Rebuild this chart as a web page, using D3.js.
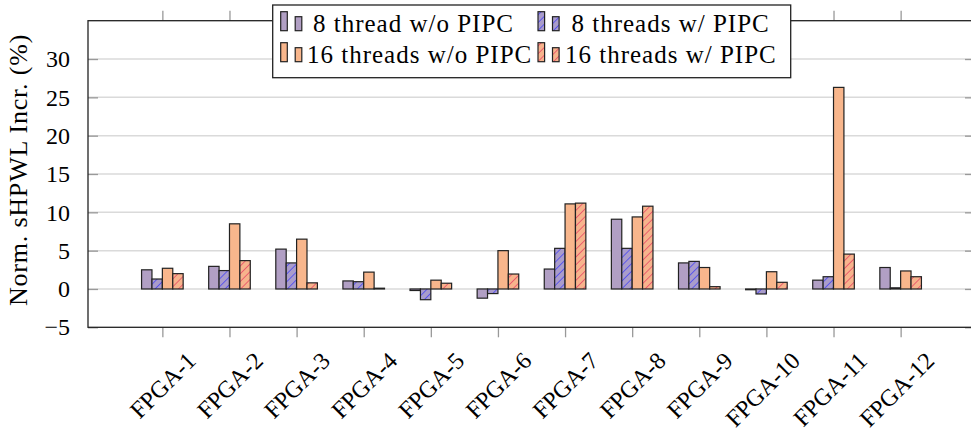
<!DOCTYPE html>
<html>
<head>
<meta charset="utf-8">
<script src="https://cdn.jsdelivr.net/npm/d3@7"></script>
<style>
  body { margin: 0; background: #fff; }
  svg { display: block; font-family: "Liberation Serif", "DejaVu Serif", serif; }
</style>
</head>
<body>
<div id="chart"></div>
<script>
// data
const categories = ["FPGA-1", "FPGA-2", "FPGA-3", "FPGA-4", "FPGA-5", "FPGA-6",
                    "FPGA-7", "FPGA-8", "FPGA-9", "FPGA-10", "FPGA-11", "FPGA-12"];
const seriesNames = ["8 thread w/o PIPC", "8 threads w/ PIPC", "16 threads w/o PIPC", "16 threads w/ PIPC"];
const t8NoPipc  = [2.5, 2.95, 5.2, 1.05, -0.2, -1.2, 2.6, 9.1, 3.4, -0.1, 1.15, 2.8];
const t8Pipc    = [1.3, 2.4, 3.4, 0.95, -1.4, -0.6, 5.3, 5.3, 3.6, -0.65, 1.6, 0.15];
const t16NoPipc = [2.7, 8.5, 6.5, 2.2, 1.15, 5.0, 11.1, 9.4, 2.8, 2.25, 26.3, 2.35];
const t16Pipc   = [2.0, 3.7, 0.8, 0.1, 0.75, 1.95, 11.2, 10.8, 0.3, 0.87, 4.55, 1.6];
const yTicks = [-5, 0, 5, 10, 15, 20, 25, 30];

const series = [t8NoPipc, t8Pipc, t16NoPipc, t16Pipc];
const styles = [
  { fill: "#b19fc4", hatch: null },
  { fill: "#a99ccb", hatch: "#2b2bff" },
  { fill: "#f8b68c", hatch: null },
  { fill: "#f7b38c", hatch: "#e3285a" }
];

const W = 971, H = 433;
const pLeft = 88, pRight = 975, pTop = 20.7, pBottom = 327.3;

const svg = d3.select("#chart").append("svg")
  .attr("width", W).attr("height", H);

const defs = svg.append("defs");
styles.forEach((s, i) => {
  if (!s.hatch) return;
  const p = defs.append("pattern")
    .attr("id", "hatch" + i)
    .attr("patternUnits", "userSpaceOnUse")
    .attr("width", 5.5).attr("height", 5.5)
    .attr("patternTransform", "rotate(45)");
  p.append("rect").attr("width", 5.5).attr("height", 5.5).attr("fill", s.fill);
  p.append("line").attr("x1", 0).attr("y1", 0).attr("x2", 0).attr("y2", 5.5)
    .attr("stroke", s.hatch).attr("stroke-width", 1.2);
});
const fillOf = i => styles[i].hatch ? "url(#hatch" + i + ")" : styles[i].fill;

// category index 0..11, with the frame reaching ~1.1 steps past the end ticks
const x = d3.scaleLinear().domain([-1.108, 12.108]).range([pLeft, pRight]);
const y = d3.scaleLinear().domain([-5, 35]).range([pBottom, pTop]);
const barW = 10.4;
const sub = d3.scaleBand().domain(d3.range(series.length)).range([-2 * barW, 2 * barW]);

// grid
svg.append("g").selectAll("line").data(yTicks.filter(v => v > -5)).enter()
  .append("line")
  .attr("x1", pLeft).attr("x2", pRight)
  .attr("y1", d => y(d)).attr("y2", d => y(d))
  .attr("stroke", "#dadada").attr("stroke-width", 1.5);

// y axis ticks inside, both sides
const yAxisL = svg.append("g").attr("transform", `translate(${pLeft},0)`)
  .call(d3.axisLeft(y).tickValues(yTicks).tickSize(-10).tickPadding(18)
    .tickFormat(d => d < 0 ? "\u2212" + Math.abs(d) : d));
yAxisL.select(".domain").remove();
yAxisL.selectAll(".tick line").attr("stroke", "#999").attr("stroke-width", 1.3);
yAxisL.selectAll(".tick text").attr("font-size", 24).attr("fill", "#000")
  .attr("font-family", "Liberation Serif, DejaVu Serif, serif");

const yAxisR = svg.append("g").attr("transform", `translate(${pRight},0)`)
  .call(d3.axisRight(y).tickValues(yTicks).tickSize(-10).tickFormat(""));
yAxisR.select(".domain").remove();
yAxisR.selectAll(".tick line").attr("stroke", "#999").attr("stroke-width", 1.3);

// x ticks outside, top and bottom
const xIdx = d3.range(categories.length);
const xAxisB = svg.append("g").attr("transform", `translate(0,${pBottom})`)
  .call(d3.axisBottom(x).tickValues(xIdx).tickSize(10).tickFormat(""));
xAxisB.select(".domain").remove();
xAxisB.selectAll(".tick line").attr("stroke", "#999").attr("stroke-width", 1.3);

const xAxisT = svg.append("g").attr("transform", `translate(0,${pTop})`)
  .call(d3.axisTop(x).tickValues(xIdx).tickSize(10).tickFormat(""));
xAxisT.select(".domain").remove();
xAxisT.selectAll(".tick line").attr("stroke", "#999").attr("stroke-width", 1.3);

// x labels, rotated
svg.append("g").selectAll("text").data(categories).enter()
  .append("text")
  .attr("transform", (d, i) => `translate(${x(i) + 35},${pBottom + 35}) rotate(-45)`)
  .attr("text-anchor", "end")
  .attr("font-size", 24)
  .text(d => d);

// bars
const groups = svg.append("g").selectAll("g").data(series).enter()
  .append("g");
groups.each(function (vals, si) {
  d3.select(this).selectAll("rect").data(vals).enter()
    .append("rect")
    .attr("x", (d, i) => x(i) + sub(si))
    .attr("width", sub.bandwidth())
    .attr("y", d => y(Math.max(0, d)))
    .attr("height", d => Math.abs(y(d) - y(0)))
    .attr("fill", fillOf(si))
    .attr("stroke", "#222").attr("stroke-width", 1.2);
});

// frame
svg.append("rect")
  .attr("x", pLeft).attr("y", pTop)
  .attr("width", pRight - pLeft).attr("height", pBottom - pTop)
  .attr("fill", "none").attr("stroke", "#222").attr("stroke-width", 1.3);

// y label
svg.append("text")
  .attr("transform", `translate(27,170) rotate(-90)`)
  .attr("text-anchor", "middle")
  .attr("font-size", 26)
  .attr("letter-spacing", 0.8)
  .text("Norm. sHPWL Incr. (%)");

// legend
const lg = svg.append("g");
lg.append("rect")
  .attr("x", 272.7).attr("y", 5).attr("width", 518).attr("height", 72.7)
  .attr("fill", "#fff").attr("stroke", "#222").attr("stroke-width", 1.3);
const legendPos = [
  { sx: 280.7, tx: 313, by: 30.7, ty: 31.5 },
  { sx: 538, tx: 571.5, by: 30.7, ty: 31.5 },
  { sx: 280.7, tx: 307, by: 61.7, ty: 63 },
  { sx: 538, tx: 565, by: 61.7, ty: 63 }
];
seriesNames.forEach((name, i) => {
  const p = legendPos[i];
  lg.append("rect").attr("x", p.sx).attr("y", p.by - 19).attr("width", 6.6).attr("height", 19)
    .attr("fill", fillOf(i)).attr("stroke", "#222").attr("stroke-width", 1.2);
  lg.append("rect").attr("x", p.sx + 14.5).attr("y", p.by - 14).attr("width", 6.6).attr("height", 14)
    .attr("fill", fillOf(i)).attr("stroke", "#222").attr("stroke-width", 1.2);
  lg.append("text").attr("x", p.tx).attr("y", p.ty)
    .attr("font-size", 25).attr("letter-spacing", 1.0).text(name);
});
</script>
</body>
</html>
